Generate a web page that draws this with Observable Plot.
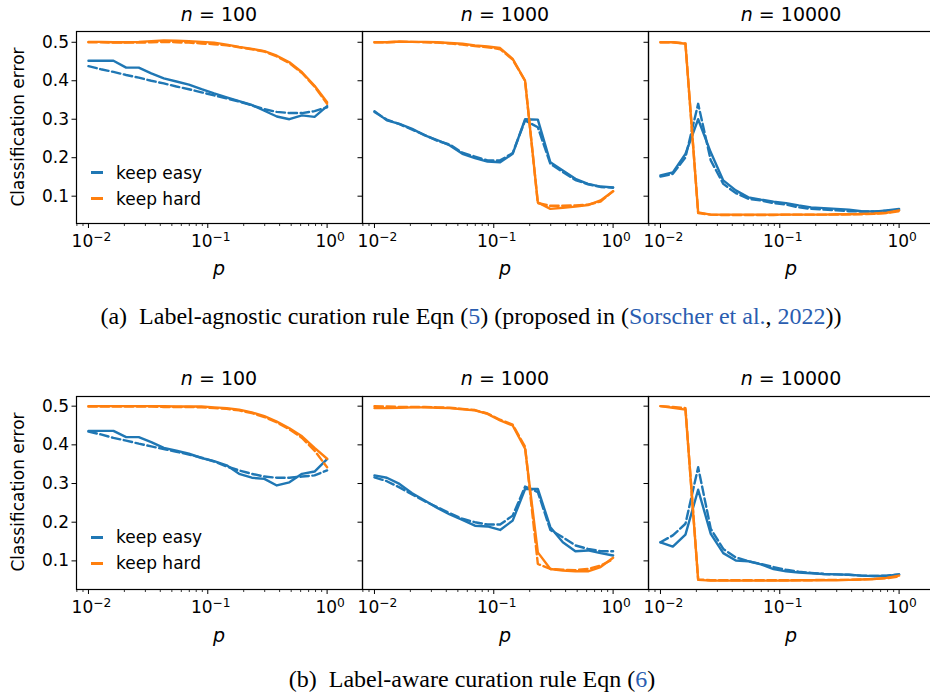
<!DOCTYPE html>
<html><head><meta charset="utf-8">
<script src="https://cdn.jsdelivr.net/npm/d3@7"></script>
<script src="https://cdn.jsdelivr.net/npm/@observablehq/plot@0.6"></script>
<style>
html,body{margin:0;padding:0;background:#fff;}
#root{position:relative;width:930px;height:698px;overflow:hidden;background:#fff;font-family:"DejaVu Sans",sans-serif;color:#000;}
.abs{position:absolute;white-space:nowrap;line-height:1;}
.c{transform:translate(-50%,-50%);}
.title{font-size:19px;}
.plab{font-size:19px;font-style:italic;}
.ylab{font-size:17px;transform:translate(-50%,-50%) rotate(-90deg);}
.leg{font-size:17px;transform:translateY(-50%);}
.sw{position:absolute;height:3px;width:12px;}
.cap{font-family:"Liberation Serif","Times New Roman",serif;font-size:24px;}
.link{color:#2a5db0;}
.panel{position:absolute;}
</style>
</head><body><div id="root"></div>
<script>
// ---- data ----
const p = [0.01, 0.0127, 0.0162, 0.0207, 0.0264, 0.0336, 0.0428, 0.0546, 0.0695, 0.0886, 0.113, 0.144, 0.183, 0.234, 0.298, 0.379, 0.483, 0.616, 0.785, 1.0];
const pMajorTicks = [0.01, 0.1, 1];
const pMinorTicks = [0.008, 0.009, 0.02, 0.03, 0.04, 0.05, 0.06, 0.07, 0.08, 0.09, 0.2, 0.3, 0.4, 0.5, 0.6, 0.7, 0.8, 0.9];
const errorTicks = [0.1, 0.2, 0.3, 0.4, 0.5];
const sampleSizes = [100, 1000, 10000];
const strategies = ["keep easy", "keep hard"];
const strategyColors = ["#1f77b4", "#ff7f0e"];

// (a) label-agnostic rule: solid = empirical, dashed = theory
const a100EasySolid  = [0.452, 0.452, 0.452, 0.434, 0.434, 0.419, 0.406, 0.398, 0.390, 0.378, 0.367, 0.357, 0.347, 0.337, 0.322, 0.307, 0.300, 0.310, 0.306, 0.334];
const a100EasyDashed = [0.438, 0.430, 0.423, 0.415, 0.408, 0.400, 0.393, 0.385, 0.378, 0.370, 0.362, 0.354, 0.346, 0.336, 0.326, 0.319, 0.316, 0.316, 0.321, 0.331];
const a100HardSolid  = [0.501, 0.501, 0.500, 0.500, 0.501, 0.503, 0.505, 0.504, 0.503, 0.501, 0.499, 0.494, 0.488, 0.483, 0.477, 0.465, 0.448, 0.422, 0.387, 0.344];
const a100HardDashed = [0.500, 0.500, 0.499, 0.499, 0.499, 0.500, 0.501, 0.500, 0.499, 0.497, 0.495, 0.492, 0.487, 0.482, 0.476, 0.463, 0.446, 0.420, 0.385, 0.340];

const a1000EasySolid  = [0.321, 0.297, 0.288, 0.275, 0.258, 0.246, 0.232, 0.210, 0.199, 0.190, 0.188, 0.210, 0.300, 0.299, 0.188, 0.167, 0.145, 0.132, 0.125, 0.123];
const a1000EasyDashed = [0.319, 0.299, 0.287, 0.273, 0.259, 0.244, 0.234, 0.213, 0.203, 0.193, 0.193, 0.212, 0.297, 0.279, 0.184, 0.163, 0.142, 0.131, 0.124, 0.122];
const a1000HardSolid  = [0.500, 0.500, 0.502, 0.501, 0.501, 0.500, 0.498, 0.496, 0.492, 0.489, 0.485, 0.457, 0.400, 0.084, 0.067, 0.070, 0.073, 0.077, 0.089, 0.113];
const a1000HardDashed = [0.500, 0.500, 0.501, 0.501, 0.500, 0.499, 0.497, 0.494, 0.490, 0.487, 0.482, 0.455, 0.400, 0.082, 0.075, 0.075, 0.076, 0.078, 0.086, 0.113];

const a10000EasySolid  = [0.154, 0.162, 0.210, 0.300, 0.214, 0.141, 0.115, 0.097, 0.091, 0.086, 0.082, 0.076, 0.071, 0.069, 0.067, 0.065, 0.061, 0.060, 0.063, 0.067];
const a10000EasyDashed = [0.151, 0.158, 0.201, 0.340, 0.193, 0.132, 0.108, 0.093, 0.089, 0.082, 0.078, 0.071, 0.067, 0.065, 0.063, 0.061, 0.060, 0.060, 0.062, 0.064];
const a10000HardSolid  = [0.500, 0.500, 0.496, 0.058, 0.052, 0.052, 0.052, 0.052, 0.052, 0.052, 0.052, 0.052, 0.052, 0.052, 0.053, 0.053, 0.054, 0.055, 0.057, 0.063];
const a10000HardDashed = [0.500, 0.500, 0.497, 0.056, 0.052, 0.051, 0.051, 0.051, 0.051, 0.051, 0.052, 0.052, 0.052, 0.052, 0.052, 0.053, 0.053, 0.054, 0.056, 0.061];

// (b) label-aware rule
const b100EasySolid  = [0.436, 0.436, 0.436, 0.420, 0.420, 0.407, 0.392, 0.385, 0.377, 0.366, 0.358, 0.347, 0.325, 0.315, 0.312, 0.295, 0.303, 0.325, 0.331, 0.363];
const b100EasyDashed = [0.434, 0.427, 0.418, 0.411, 0.403, 0.396, 0.389, 0.382, 0.375, 0.367, 0.357, 0.344, 0.334, 0.325, 0.318, 0.315, 0.315, 0.318, 0.321, 0.334];
const b100HardSolid  = [0.500, 0.500, 0.500, 0.500, 0.500, 0.500, 0.500, 0.499, 0.499, 0.499, 0.497, 0.495, 0.491, 0.484, 0.474, 0.460, 0.443, 0.422, 0.392, 0.364];
const b100HardDashed = [0.499, 0.499, 0.499, 0.499, 0.499, 0.499, 0.498, 0.498, 0.498, 0.497, 0.495, 0.493, 0.489, 0.482, 0.472, 0.458, 0.440, 0.418, 0.385, 0.342];

const b1000EasySolid  = [0.321, 0.315, 0.299, 0.275, 0.256, 0.237, 0.220, 0.206, 0.191, 0.189, 0.180, 0.204, 0.286, 0.286, 0.187, 0.148, 0.125, 0.127, 0.120, 0.114];
const b1000EasyDashed = [0.316, 0.306, 0.290, 0.272, 0.254, 0.239, 0.223, 0.209, 0.200, 0.194, 0.194, 0.217, 0.292, 0.278, 0.180, 0.161, 0.140, 0.131, 0.125, 0.125];
const b1000HardSolid  = [0.495, 0.495, 0.496, 0.497, 0.497, 0.496, 0.495, 0.492, 0.489, 0.480, 0.463, 0.450, 0.390, 0.122, 0.079, 0.075, 0.073, 0.073, 0.084, 0.108];
const b1000HardDashed = [0.500, 0.499, 0.498, 0.498, 0.498, 0.497, 0.496, 0.493, 0.490, 0.481, 0.465, 0.452, 0.395, 0.092, 0.079, 0.077, 0.076, 0.079, 0.088, 0.104];

const b10000EasySolid  = [0.148, 0.137, 0.168, 0.284, 0.170, 0.120, 0.101, 0.099, 0.091, 0.079, 0.073, 0.070, 0.068, 0.066, 0.065, 0.064, 0.062, 0.061, 0.061, 0.065];
const b10000EasyDashed = [0.148, 0.166, 0.196, 0.342, 0.183, 0.131, 0.109, 0.099, 0.092, 0.084, 0.077, 0.072, 0.069, 0.066, 0.065, 0.064, 0.062, 0.061, 0.062, 0.065];
const b10000HardSolid  = [0.500, 0.496, 0.491, 0.051, 0.049, 0.049, 0.049, 0.049, 0.049, 0.049, 0.049, 0.050, 0.050, 0.050, 0.050, 0.051, 0.052, 0.053, 0.056, 0.062];
const b10000HardDashed = [0.500, 0.498, 0.495, 0.052, 0.050, 0.050, 0.050, 0.050, 0.050, 0.050, 0.050, 0.050, 0.050, 0.051, 0.051, 0.051, 0.052, 0.053, 0.055, 0.060];

const panelData = {
  a: [
    [a100EasySolid, a100EasyDashed, a100HardSolid, a100HardDashed],
    [a1000EasySolid, a1000EasyDashed, a1000HardSolid, a1000HardDashed],
    [a10000EasySolid, a10000EasyDashed, a10000HardSolid, a10000HardDashed]
  ],
  b: [
    [b100EasySolid, b100EasyDashed, b100HardSolid, b100HardDashed],
    [b1000EasySolid, b1000EasyDashed, b1000HardSolid, b1000HardDashed],
    [b10000EasySolid, b10000EasyDashed, b10000HardSolid, b10000HardDashed]
  ]
};

// ---- layout ----
const root = document.getElementById("root");
const PW = 286, ML = 50, MR = 14, MT = 6, MB = 52;
const colLefts = [76, 362, 648];
const rows = [
  {key: "a", top: 31, h: 192, yDomain: [0.029, 0.528], titleY: 14, pY: 268, ylabY: 127, legY: [172.5, 198.5]},
  {key: "b", top: 396, h: 193, yDomain: [0.026, 0.525], titleY: 378, pY: 635, ylabY: 492, legY: [537, 563]}
];
const sup = {"-": "\u207B", "0": "\u2070", "1": "\u00B9", "2": "\u00B2", "3": "\u00B3"};
const fmtPow = d => "10" + String(Math.round(Math.log10(d))).split("").map(c => sup[c]).join("");
const unsup = {"\u207B": "\u2212", "\u2070": "0", "\u00B9": "1", "\u00B2": "2", "\u00B3": "3"};

function addDiv(cls, x, y, html) {
  const el = document.createElement("div");
  el.className = "abs " + cls;
  el.style.left = x + "px";
  el.style.top = y + "px";
  el.innerHTML = html;
  root.appendChild(el);
  return el;
}

rows.forEach(row => {
  sampleSizes.forEach((n, ci) => {
    const [es, ed, hs, hd] = panelData[row.key][ci];
    const solid = [], dashed = [];
    p.forEach((pv, i) => {
      solid.push({p: pv, err: es[i], strategy: strategies[0]});
      solid.push({p: pv, err: hs[i], strategy: strategies[1]});
      dashed.push({p: pv, err: ed[i], strategy: strategies[0]});
      dashed.push({p: pv, err: hd[i], strategy: strategies[1]});
    });
    const bySeries = (arr, s) => arr.filter(d => d.strategy === s);
    const chart = Plot.plot({
      width: ML + PW + MR,
      height: MT + row.h + MB,
      marginLeft: ML, marginRight: MR, marginTop: MT, marginBottom: MB,
      style: {background: "none", overflow: "visible", fontFamily: "DejaVu Sans, sans-serif", fontSize: "17px", color: "#000"},
      x: {type: "log", domain: [0.00794, 1.98]},
      y: {domain: row.yDomain},
      color: {domain: strategies, range: strategyColors},
      marks: [
        Plot.axisX(pMinorTicks, {tickSize: 3, tickFormat: () => "", label: null, strokeWidth: 0.8}),
        Plot.axisX(pMajorTicks, {tickSize: 5, tickPadding: 6, tickFormat: fmtPow, label: null, strokeWidth: 1, ariaLabel: "major-x"}),
        Plot.axisY(errorTicks, {tickSize: 4.5, tickPadding: 3, tickFormat: ci === 0 ? d3.format(".1f") : () => "", label: null, strokeWidth: 1}),
        Plot.line(bySeries(solid, strategies[0]), {x: "p", y: "err", stroke: "strategy", strokeWidth: 2.4}),
        Plot.line(bySeries(dashed, strategies[0]), {x: "p", y: "err", stroke: "strategy", strokeWidth: 2.4, strokeDasharray: "8.5,3.6"}),
        Plot.line(bySeries(solid, strategies[1]), {x: "p", y: "err", stroke: "strategy", strokeWidth: 2.4}),
        Plot.line(bySeries(dashed, strategies[1]), {x: "p", y: "err", stroke: "strategy", strokeWidth: 2.4, strokeDasharray: "8.5,3.6"}),
        Plot.frame({stroke: "#000", strokeWidth: 1.2})
      ]
    });
    chart.style.maxWidth = "none";
    // render the power-of-ten labels with a raised superscript, as matplotlib does
    chart.querySelectorAll("text").forEach(t => {
      const s = t.textContent;
      if (/^10[\u207B\u2070\u00B9\u00B2\u00B3]+$/.test(s)) {
        const expo = s.slice(2).split("").map(c => unsup[c]).join("");
        t.textContent = "10";
        const ts = document.createElementNS("http://www.w3.org/2000/svg", "tspan");
        ts.setAttribute("dy", "-0.42em");
        ts.setAttribute("font-size", "0.72em");
        ts.textContent = expo;
        t.appendChild(ts);
        t.setAttribute("dx", "3");
      }
    });
    const holder = document.createElement("div");
    holder.className = "panel";
    holder.style.left = (colLefts[ci] - ML) + "px";
    holder.style.top = (row.top - MT) + "px";
    holder.appendChild(chart);
    root.appendChild(holder);

    const cx = colLefts[ci] + PW / 2;
    addDiv("c title", cx, row.titleY, `<i>n</i> = ${n}`);
    addDiv("c plab", cx, row.pY, "p");
  });
  addDiv("ylab", 18, row.ylabY, "Classification error");
  strategies.forEach((s, i) => {
    const sw = document.createElement("div");
    sw.className = "sw";
    sw.style.left = "91px";
    sw.style.top = (row.legY[i] - 1.5) + "px";
    sw.style.background = strategyColors[i];
    root.appendChild(sw);
    addDiv("leg", 116, row.legY[i], s);
  });
});

addDiv("c cap", 471, 316, '(a)&nbsp; Label-agnostic curation rule Eqn (<span class="link">5</span>) (proposed in (<span class="link">Sorscher et al.</span>, <span class="link">2022</span>))');
addDiv("c cap", 472, 679, '(b)&nbsp; Label-aware curation rule Eqn (<span class="link">6</span>)');
</script>
</body></html>
